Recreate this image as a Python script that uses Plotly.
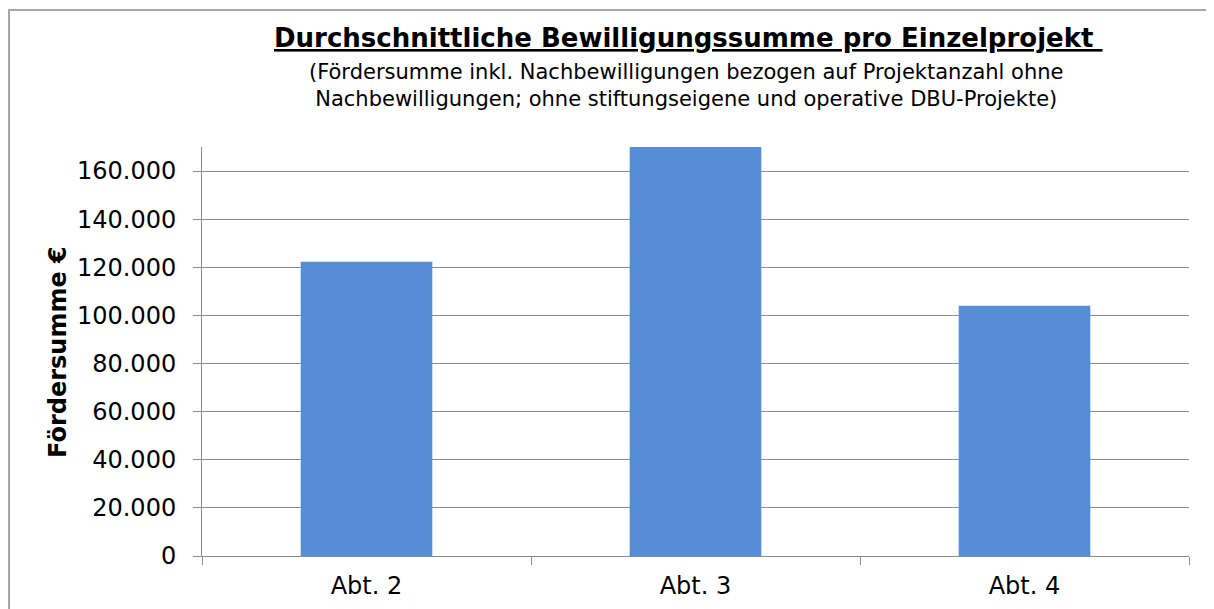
import plotly.graph_objects as go

categories = ["Abt. 2", "Abt. 3", "Abt. 4"]
values = [122300, 170000, 104000]
y_ticks = [0, 20000, 40000, 60000, 80000, 100000, 120000, 140000, 160000]

# page has an 8px body margin; work in screen pixels and convert
OFF = 8
W, H = 1214, 609
L, R, T, B = 202 - OFF, 1214 - 1189 + OFF, 147 - OFF, 609 - 556 + OFF
pw, ph = W - L - R, H - T - B

def px_x(x):
    return (x - OFF - L) / pw

def px_y(y):
    return (H - B - (y - OFF)) / ph

fig = go.Figure()
fig.add_trace(go.Bar(x=categories, y=values, marker=dict(color="#558ED5", line=dict(width=0)),
                     hoverinfo="x+y"))

grid = "#8c8c8c"
fig.update_layout(
    width=W, height=H,
    margin=dict(l=L, r=R, t=T, b=B, pad=0),
    paper_bgcolor="white", plot_bgcolor="white",
    separators=",.",
    bargap=0.6,
    showlegend=False,
    font=dict(family="DejaVu Sans, Verdana, sans-serif", color="black"),
    xaxis=dict(showline=True, linecolor=grid, linewidth=1, ticks="outside", tickson="boundaries",
               ticklen=8, tickcolor=grid, tickfont=dict(size=24), showgrid=False,
               ticklabelstandoff=8),
    yaxis=dict(range=[0, 170000], tickvals=y_ticks, tickformat=",.0f", showline=True, linecolor=grid,
               linewidth=1, ticks="outside", ticklen=8, tickcolor=grid, tickfont=dict(size=24),
               showgrid=True, gridcolor=grid, gridwidth=1, zeroline=False,
               ticklabelstandoff=12),
    annotations=[
        dict(text="<b><u>Durchschnittliche Bewilligungssumme pro Einzelprojekt </u></b>",
             xref="paper", yref="paper", x=px_x(688), y=px_y(38), xanchor="center", yanchor="middle",
             showarrow=False, font=dict(size=26)),
        dict(text="(Fördersumme inkl. Nachbewilligungen bezogen auf Projektanzahl ohne<br>"
                  "Nachbewilligungen; ohne stiftungseigene und operative DBU-Projekte)",
             xref="paper", yref="paper", x=px_x(686), y=px_y(86), xanchor="center", yanchor="middle",
             showarrow=False, font=dict(size=21)),
        dict(text="<b>Fördersumme €</b>", textangle=-90,
             xref="paper", yref="paper", x=px_x(58), y=px_y(352), xanchor="center", yanchor="middle",
             showarrow=False, font=dict(size=24)),
    ],
    shapes=[
        dict(type="rect", xref="paper", yref="paper", x0=px_x(9), x1=px_x(1400), y0=px_y(10), y1=px_y(800),
             line=dict(color="#a6a6a6", width=2), layer="below"),
    ],
)

fig.write_html("out.html")
